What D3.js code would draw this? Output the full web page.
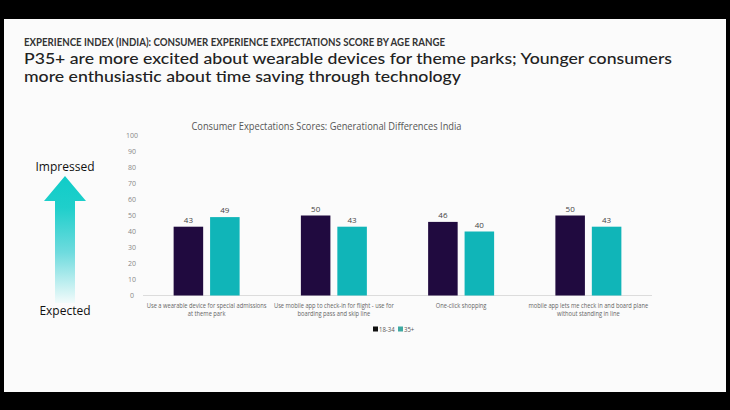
<!DOCTYPE html>
<html><head><meta charset="utf-8">
<script src="https://cdn.jsdelivr.net/npm/d3@7"></script>
<style>html,body{margin:0;padding:0;background:#000;} svg{display:block;}</style>
</head><body>
<svg id="c" width="730" height="410"></svg>
<script>
// ---- data ----
const categories = ["wearable", "checkin", "oneclick", "boardplane"];
const categoryLines = [
  ["Use a wearable device for special admissions", "at theme park"],
  ["Use mobile app to check-in for flight - use for", "boarding pass and skip line"],
  ["One-click shopping"],
  ["mobile app lets me check in and board plane", "without standing in line"]
];
const series = ["18-34", "35+"];
const values1834 = [43, 50, 46, 50];
const values35plus = [49, 43, 40, 43];
const yTicks = [0, 10, 20, 30, 40, 50, 60, 70, 80, 90, 100];
const superTitle = "EXPERIENCE INDEX (INDIA): CONSUMER EXPERIENCE EXPECTATIONS SCORE BY AGE RANGE";
const titleLines = ["P35+ are more excited about wearable devices for theme parks; Younger consumers",
                    "more enthusiastic about time saving through technology"];
const chartTitle = "Consumer Expectations Scores: Generational Differences India";

const colors = {"18-34": "#200a3f", "35+": "#10b5b8"};
const legendColors = {"18-34": "#111111", "35+": "#3fa9a2"};
const FONT = "'Open Sans', 'Noto Sans', sans-serif";
const TFONT = "Lato, 'Open Sans', sans-serif";

const svg = d3.select("#c");
svg.append("rect").attr("width", 730).attr("height", 410).attr("fill", "#000");
svg.append("rect").attr("x", 4).attr("y", 19).attr("width", 722).attr("height", 373).attr("fill", "#fbfbfb");

function fit(sel, w) {
  const n = sel.node();
  const len = n.getComputedTextLength();
  if (Math.abs(len - w) > 1) sel.attr("textLength", w).attr("lengthAdjust", "spacingAndGlyphs");
}

// headings
fit(svg.append("text").attr("x", 24).attr("y", 45.5).attr("font-family", TFONT).attr("font-size", 11)
  .attr("font-weight", 700).attr("fill", "#333").text(superTitle), 421);
fit(svg.append("text").attr("x", 24).attr("y", 64).attr("font-family", TFONT).attr("font-size", 15.5)
  .attr("font-weight", 500).attr("fill", "#222").text(titleLines[0]), 648);
fit(svg.append("text").attr("x", 24).attr("y", 82).attr("font-family", TFONT).attr("font-size", 15.5)
  .attr("font-weight", 500).attr("fill", "#222").text(titleLines[1]), 437);
fit(svg.append("text").attr("x", 326.5).attr("y", 129.5).attr("text-anchor", "middle").attr("font-family", FONT)
  .attr("font-size", 10).attr("fill", "#555").text(chartTitle), 270);

// arrow
const defs = svg.append("defs");
const grad = defs.append("linearGradient").attr("id", "ag")
  .attr("gradientUnits", "userSpaceOnUse").attr("x1", 0).attr("y1", 176).attr("x2", 0).attr("y2", 303);
grad.append("stop").attr("offset", 0).attr("stop-color", "#10ccc8");
grad.append("stop").attr("offset", 0.25).attr("stop-color", "#1fcfcb");
grad.append("stop").attr("offset", 0.6).attr("stop-color", "#6edbde");
grad.append("stop").attr("offset", 1).attr("stop-color", "#f2fbfb");
svg.append("path").attr("d", "M44,201 L65,176 L86,201 L75,201 L75,303 L55,303 L55,201 Z").attr("fill", "url(#ag)");
svg.append("text").attr("x", 65).attr("y", 171).attr("text-anchor", "middle").attr("font-family", FONT)
  .attr("font-size", 12).attr("fill", "#111").text("Impressed");
svg.append("text").attr("x", 65).attr("y", 314.5).attr("text-anchor", "middle").attr("font-family", FONT)
  .attr("font-size", 12).attr("fill", "#111").text("Expected");

// scales
const y = d3.scaleLinear().domain([0, 100]).range([295.5, 135.5]);
const x0 = d3.scaleBand().domain(categories).range([143, 652]).padding(0);
const x1 = d3.scaleBand().domain(series).range([0, x0.bandwidth()]).paddingInner(0.19).paddingOuter(0.84);

// y axis
const yAxis = svg.append("g").attr("transform", "translate(138,0)")
  .call(d3.axisLeft(y).tickValues(yTicks).tickSize(0).tickPadding(0));
yAxis.select(".domain").remove();
yAxis.selectAll("text").attr("x", -6).attr("text-anchor", "middle").attr("font-family", FONT)
  .attr("font-size", 7).attr("fill", "#888");

// baseline
svg.append("line").attr("x1", 143).attr("x2", 652).attr("y1", y(0)).attr("y2", y(0))
  .attr("stroke", "#dcdcdc").attr("stroke-width", 1);

// bars
const rows = categories.map((c, i) => ({cat: c, vals: [
  {s: series[0], v: values1834[i]}, {s: series[1], v: values35plus[i]}]}));
const g = svg.selectAll("g.grp").data(rows).enter().append("g").attr("class", "grp")
  .attr("transform", d => `translate(${x0(d.cat)},0)`);
g.selectAll("rect").data(d => d.vals).enter().append("rect")
  .attr("x", d => x1(d.s)).attr("width", x1.bandwidth())
  .attr("y", d => y(d.v)).attr("height", d => y(0) - y(d.v))
  .attr("fill", d => colors[d.s]);
g.selectAll("text.val").data(d => d.vals).enter().append("text").attr("class", "val")
  .attr("x", d => x1(d.s) + x1.bandwidth() / 2).attr("y", d => y(d.v) - 4)
  .attr("text-anchor", "middle").attr("font-family", FONT).attr("font-size", 8).attr("fill", "#444")
  .text(d => d.v);

// category labels (horizontally condensed via transform)
const xAxis = svg.append("g").attr("transform", `translate(0,${y(0)})`)
  .call(d3.axisBottom(x0).tickSize(0).tickFormat(""));
xAxis.select(".domain").remove();
let factor = null;
categories.forEach((c, i) => {
  categoryLines[i].forEach((line, j) => {
    const t = svg.append("text").attr("x", 0).attr("y", 0)
      .attr("text-anchor", "middle").attr("font-family", FONT).attr("font-size", 7)
      .attr("fill", "#666").text(line);
    const len = t.node().getComputedTextLength();
    if (factor === null) factor = 120 / len;
    t.attr("transform", `translate(${x0(c) + x0.bandwidth() / 2},${307.5 + j * 8.6}) scale(${factor},1)`);
  });
});

// legend
const legendX = [373, 398];
series.forEach((s, i) => {
  svg.append("rect").attr("x", legendX[i]).attr("y", 326.5).attr("width", 5).attr("height", 5)
    .attr("fill", legendColors[s]);
  svg.append("text").attr("x", 0).attr("y", 0).attr("font-family", FONT)
    .attr("font-size", 7).attr("fill", "#555").text(s)
    .attr("transform", `translate(${legendX[i] + 6},331.5) scale(${factor * 1.05},1)`);
});
</script>
</body></html>
